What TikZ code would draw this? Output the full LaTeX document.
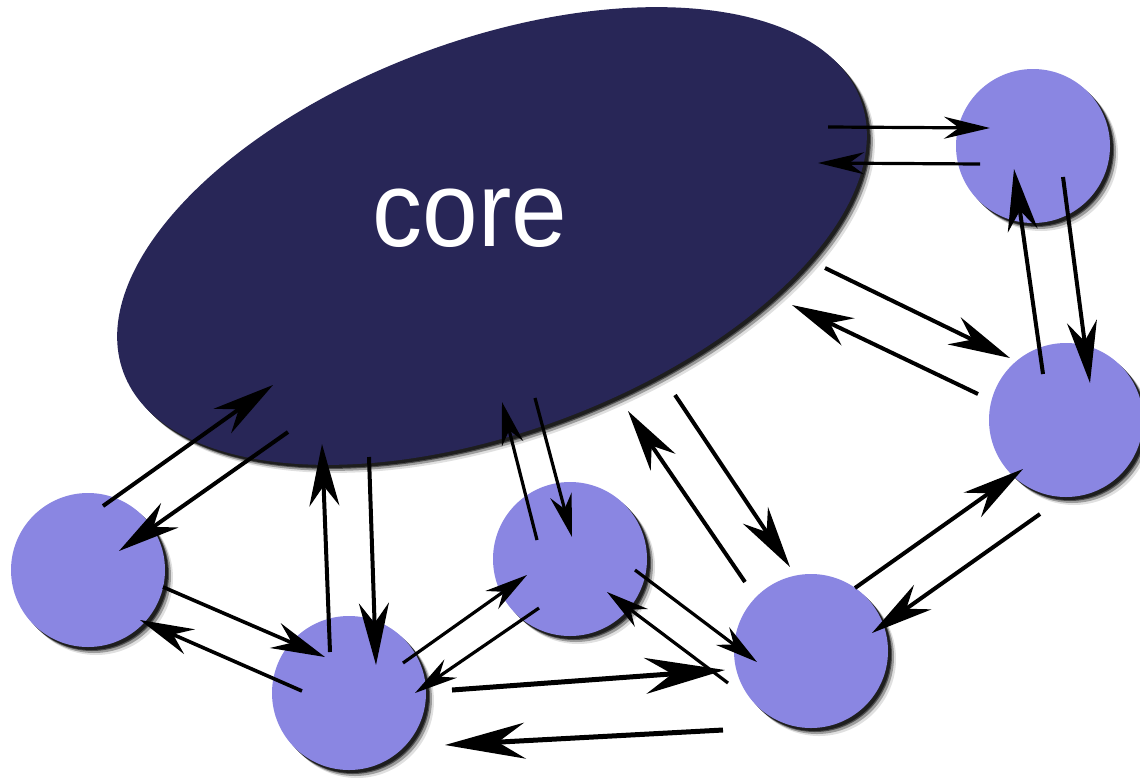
\documentclass[tikz,border=0pt]{standalone}
\usepackage{fontspec}
\setmainfont{Liberation Sans}
\usetikzlibrary{arrows.meta,shapes.geometric}
\definecolor{corecol}{RGB}{40,38,87}
\definecolor{nodecol}{RGB}{138,134,226}
\begin{document}
\begin{tikzpicture}[x=1pt,y=-1pt,
  peer/.style={circle,fill=nodecol,minimum size=154pt,inner sep=0pt,outer sep=0pt},
  corestyle/.style={ellipse,fill=corecol,minimum width=786pt,minimum height=392pt,inner sep=0pt,outer sep=0pt,rotate=20.3},
  arrbig/.style={draw=black,line width=4pt,-{Stealth[length=62pt,width=30pt,inset=20pt]}},
  arrmed/.style={draw=black,line width=3.6pt,-{Stealth[length=54pt,width=27pt,inset=18pt]}},
  arrsmall/.style={draw=black,line width=3.2pt,-{Stealth[length=43pt,width=22pt,inset=14pt]}},
  arrtop/.style={draw=black,line width=3.2pt,-{Stealth[length=46pt,width=22pt,inset=15pt]}},
  arrhuge/.style={draw=black,line width=5pt,-{Stealth[length=80pt,width=36pt,inset=27pt]}}]
\useasboundingbox (0,0) rectangle (1140,777);
\fill[white] (0,0) rectangle (1140,777);
% shadows of the core
\foreach \dx/\op in {8/0.12,6/0.3,4/0.5,3/0.6}{
  \fill[black,opacity=\op,rotate around={20.3:(492+\dx,236+\dx)}] (492+\dx,236+\dx) ellipse[x radius=393,y radius=196];
}
\node[corestyle] (core) at (492,236) {};
\node[text=white,inner sep=0pt,font=\fontsize{100}{100}\selectfont] (coretext) at (470,218.5) {\scalebox{1}[1.07]{core}};
% shadows of the peers
\foreach \cx/\cy in {1033/146,1066/420,88/570,349/693,570/559,811/651}{
  \foreach \dx/\op in {8/0.12,6/0.3,4/0.5,3/0.6}{
    \fill[black,opacity=\op] (\cx+\dx,\cy+\dx) circle[radius=77];
  }
}
\node[peer] (c1) at (1033,146) {};
\node[peer] (c2) at (1066,420) {};
\node[peer] (c3) at (88,570) {};
\node[peer] (c4) at (349,693) {};
\node[peer] (c5) at (570,559) {};
\node[peer] (c6) at (811,651) {};
% arrow end points
\coordinate (a1s) at (828,127);  \coordinate (a1e) at (990,128);
\coordinate (a2s) at (980,164);  \coordinate (a2e) at (818,163);
\coordinate (a3s) at (1043,374); \coordinate (a3e) at (1014,169);
\coordinate (a4s) at (1063,177); \coordinate (a4e) at (1090,383);
\coordinate (a5s) at (825,268);  \coordinate (a5e) at (1010,358);
\coordinate (a6s) at (978,394);  \coordinate (a6e) at (792,305);
\coordinate (a7s) at (103,506);  \coordinate (a7e) at (273,385);
\coordinate (a8s) at (288,432);  \coordinate (a8e) at (119,551);
\coordinate (a9s) at (330,652);  \coordinate (a9e) at (322,444);
\coordinate (a10s) at (369,457); \coordinate (a10e) at (376,665);
\coordinate (a11s) at (163,587); \coordinate (a11e) at (325,657);
\coordinate (a12s) at (302,691); \coordinate (a12e) at (140,620);
\coordinate (a13s) at (403,663); \coordinate (a13e) at (527,575);
\coordinate (a14s) at (539,608); \coordinate (a14e) at (415,693);
\coordinate (a15s) at (537,540); \coordinate (a15e) at (502,402);
\coordinate (a16s) at (535,398); \coordinate (a16e) at (572,537);
\coordinate (a17s) at (745,582); \coordinate (a17e) at (628,411);
\coordinate (a18s) at (675,395); \coordinate (a18e) at (790,567);
\coordinate (a19s) at (635,570); \coordinate (a19e) at (757,662);
\coordinate (a20s) at (728,683); \coordinate (a20e) at (607,592);
\coordinate (a21s) at (452,690); \coordinate (a21e) at (725,670);
\coordinate (a22s) at (723,730); \coordinate (a22e) at (445,745);
\coordinate (a23s) at (855,588); \coordinate (a23e) at (1023,469);
\coordinate (a24s) at (1040,514); \coordinate (a24e) at (872,633);
% connectors
\draw[arrtop] (a1s) -- (a1e);
\draw[arrtop] (a2s) -- (a2e);
\draw[arrbig] (a3s) -- (a3e);
\draw[arrbig] (a4s) -- (a4e);
\draw[arrbig] (a5s) -- (a5e);
\draw[arrbig] (a6s) -- (a6e);
\draw[arrbig] (a7s) -- (a7e);
\draw[arrbig] (a8s) -- (a8e);
\draw[arrbig] (a9s) -- (a9e);
\draw[arrbig] (a10s) -- (a10e);
\draw[arrmed] (a11s) -- (a11e);
\draw[arrmed] (a12s) -- (a12e);
\draw[arrsmall] (a13s) -- (a13e);
\draw[arrsmall] (a14s) -- (a14e);
\draw[arrsmall] (a15s) -- (a15e);
\draw[arrsmall] (a16s) -- (a16e);
\draw[arrbig] (a17s) -- (a17e);
\draw[arrbig] (a18s) -- (a18e);
\draw[arrsmall] (a19s) -- (a19e);
\draw[arrsmall] (a20s) -- (a20e);
\draw[arrhuge] (a21s) -- (a21e);
\draw[arrhuge] (a22s) -- (a22e);
\draw[arrbig] (a23s) -- (a23e);
\draw[arrbig] (a24s) -- (a24e);
\end{tikzpicture}
\end{document}
